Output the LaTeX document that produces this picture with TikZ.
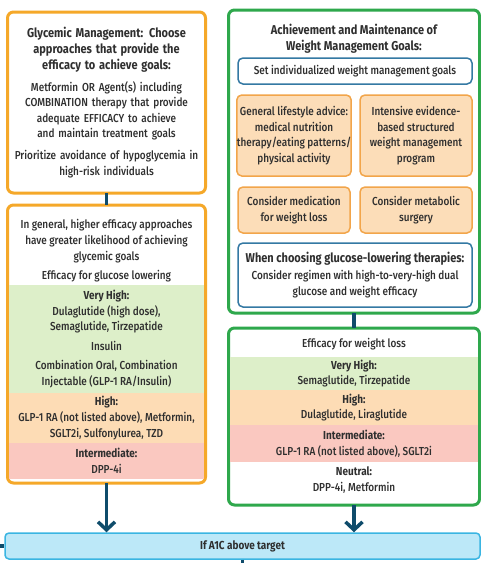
\documentclass[tikz,border=0pt]{standalone}
\usepackage{fontspec}
\setmainfont[FakeStretch=0.86, UprightFont=* Medium, BoldFont=* Bold]{Fira Sans}
\usetikzlibrary{arrows.meta, positioning}
\definecolor{ink}{HTML}{2F2F2F}
\definecolor{goalorange}{HTML}{F5A829}
\definecolor{goalgreen}{HTML}{2EA84C}
\definecolor{stepblue}{HTML}{3479A3}
\definecolor{peachline}{HTML}{F2A54A}
\definecolor{peach}{HTML}{FCDDB8}
\definecolor{vhigh}{HTML}{DDEFC9}
\definecolor{high}{HTML}{FDDCB5}
\definecolor{inter}{HTML}{FAC8C0}
\definecolor{linkteal}{HTML}{0F4C6B}
\definecolor{barfill}{HTML}{BCE8F8}
\definecolor{barline}{HTML}{3AB5E2}
\tikzstyle{obox} = [rectangle, rounded corners=6pt, draw=goalorange, line width=3pt, fill=white, inner sep=0pt, outer sep=0pt]
\tikzstyle{gbox} = [rectangle, rounded corners=6pt, draw=goalgreen, line width=3pt, fill=white, inner sep=0pt, outer sep=0pt]
\tikzstyle{bbox} = [rectangle, rounded corners=5pt, draw=stepblue, line width=1.5pt, fill=white, inner sep=0pt, align=center, text=ink]
\tikzstyle{pbox} = [rectangle, rounded corners=5pt, draw=peachline, line width=1.5pt, fill=peach, inner sep=0pt, align=center, text=ink, minimum width=112]
\tikzstyle{band} = [rectangle, inner sep=0pt, outer sep=0pt, align=center, text=ink]
\tikzstyle{txt} = [align=center, text=ink, inner sep=0pt]
\tikzstyle{link} = [line width=3.5pt, draw=linkteal]
\tikzstyle{arrow} = [link, -{Straight Barb[length=8pt, width=17pt]}]
\newcommand{\bodyfont}{\fontsize{11.6}{15.6}\selectfont}
\newcommand{\headfont}{\fontsize{12.8}{16}\selectfont\bfseries}

\begin{document}
\begin{tikzpicture}[x=1pt, y=-1pt, font=\bodyfont]
  \useasboundingbox (0,0) rectangle (481,563);

  % glycemic side
  \node (gm) [obox, minimum width=198, minimum height=181] at (106.5,102.5) {};
  \node (gmtxt) [txt, text width=194] at (gm.center) {{\headfont Glycemic Management: Choose\\ approaches that provide the\\ efficacy to achieve goals:}\\[6pt]
    Metformin OR Agent(s) including\\ COMBINATION therapy that provide\\ adequate EFFICACY to achieve\\ and maintain treatment goals\\[6pt]
    Prioritize avoidance of hypoglycemia in\\ high-risk individuals};

  \node (gl) [obox, minimum width=198, minimum height=278] at (106.5,344) {};
  \node (glintro) [txt] at (106.5,251) {In general, higher efficacy approaches\\ have greater likelihood of achieving\\ glycemic goals\\[4pt] Efficacy for glucose lowering};
  \node (glvh) [band, fill=vhigh, minimum width=195, minimum height=108] at (106.5,339) {\textbf{Very High:}\\ Dulaglutide (high dose),\\ Semaglutide, Tirzepatide\\[4pt] Insulin\\[4pt] Combination Oral, Combination\\ Injectable (GLP-1 RA/Insulin)};
  \node (glhi) [band, fill=high, minimum width=195, minimum height=50] at (106.5,418) {\textbf{High:}\\ GLP-1 RA (not listed above), Metformin,\\ SGLT2i, Sulfonylurea, TZD};
  \node (glin) [band, fill=inter, minimum width=195, minimum height=36] at (106.5,461) {\textbf{Intermediate:}\\ DPP-4i};

  % weight side
  \node (wm) [gbox, minimum width=251, minimum height=303] at (354,161.5) {};
  \node (wmtitle) [txt, font=\headfont] at (354,39) {Achievement and Maintenance of\\ Weight Management Goals:};
  \node (goals) [bbox, minimum width=234, minimum height=26] at (355,71) {Set individualized weight management goals};
  \node (advice) [pbox, minimum height=81] at (294,135.5) {General lifestyle advice:\\ medical nutrition\\ therapy/eating patterns/\\ physical activity};
  \node (program) [pbox, minimum height=81] at (416,135.5) {Intensive evidence-\\ based structured\\ weight management\\ program};
  \node (meds) [pbox, minimum height=46] at (294,210) {Consider medication\\ for weight loss};
  \node (surgery) [pbox, minimum height=46] at (416,210) {Consider metabolic\\ surgery};
  \node (choose) [bbox, minimum width=234, minimum height=64] at (355,275) {{\headfont When choosing glucose-lowering therapies:}\\[2pt] Consider regimen with high-to-very-high dual\\ glucose and weight efficacy};

  \node (wl) [gbox, minimum width=251, minimum height=177] at (354,416.5) {};
  \node (wltitle) [txt] at (354,344) {Efficacy for weight loss};
  \node (wlvh) [band, fill=vhigh, minimum width=248, minimum height=33] at (354,373.5) {\textbf{Very High:}\\ Semaglutide, Tirzepatide};
  \node (wlhi) [band, fill=high, minimum width=248, minimum height=35] at (354,407.5) {\textbf{High:}\\ Dulaglutide, Liraglutide};
  \node (wlin) [band, fill=inter, minimum width=248, minimum height=37] at (354,443.5) {\textbf{Intermediate:}\\ GLP-1 RA (not listed above), SGLT2i};
  \node (wlne) [txt] at (354,480) {\textbf{Neutral:}\\ DPP-4i, Metformin};

  % target bar
  \node (a1c) [rectangle, rounded corners=4pt, draw=barline, fill=barfill, line width=1.5pt, minimum width=475, minimum height=26, text=ink, font=\bodyfont\bfseries] at (242.5,546) {If A1C above target};
  \coordinate (inleft) at (0,546);
  \coordinate (outdown) at (242.5,563);

  \draw [link] (gm.south) -- (gl.north);
  \draw [link] (wm.south) -- (wl.north);
  \draw [arrow] (gl.south) -- (gl.south |- a1c.north);
  \draw [arrow] (wl.south) -- (wl.south |- a1c.north);
  \draw [link] (inleft) -- (a1c.west);
  \draw [link] (a1c.south) -- (outdown);
\end{tikzpicture}
\end{document}
